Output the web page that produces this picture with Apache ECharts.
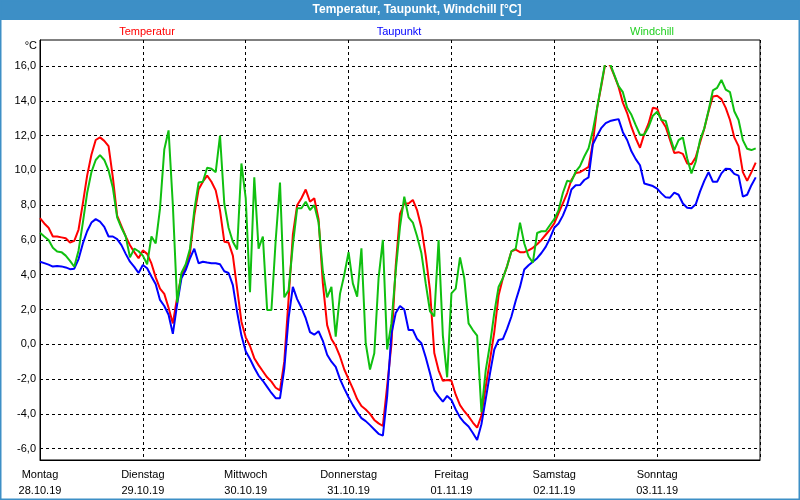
<!DOCTYPE html>
<html>
<head>
<meta charset="utf-8">
<script src="https://cdn.jsdelivr.net/npm/echarts@6/dist/echarts.min.js"></script>
<style>
  html, body { margin: 0; padding: 0; background: #ffffff; }
  #chart { width: 800px; height: 500px; }
</style>
</head>
<body>
<div id="chart"></div>
<script>
// ---- data (hourly, starting Monday 28.10.19 00:00) ----
const dayNames = ['Montag', 'Dienstag', 'Mittwoch', 'Donnerstag', 'Freitag', 'Samstag', 'Sonntag'];
const dayDates = ['28.10.19', '29.10.19', '30.10.19', '31.10.19', '01.11.19', '02.11.19', '03.11.19'];
const seriesNames = ['Temperatur', 'Taupunkt', 'Windchill'];
const chartTitle = 'Temperatur, Taupunkt, Windchill [°C]';
const unitLabel = '°C';

const temperatur = [
  7.25, 6.95, 6.7, 6.2, 6.2, 6.15, 6.1, 5.85, 5.95, 6.6, 8.1, 9.7, 10.9, 11.75, 11.9, 11.7, 11.4, 9.6, 7.4, 6.8, 6.2, 5.7, 5.3, 4.95,
  5.4, 5.2, 4.65, 3.85, 3.2, 2.9, 2.1, 1.2, 2.7, 3.95, 4.45, 5.25, 7.4, 8.9, 9.35, 9.7, 9.35, 8.85, 7.7, 5.9, 5.85, 5.1, 3.2, 1.3,
  0.4, -0.1, -0.8, -1.2, -1.55, -1.9, -2.15, -2.5, -2.65, -1.0, 2.6, 6.3, 8.0, 8.4, 8.9, 8.2, 8.4, 7.2, 3.5, 1.1, 0.3, -0.1, -0.7, -1.45,
  -2.0, -2.55, -3.15, -3.55, -3.75, -4.0, -4.35, -4.55, -4.7, -2.4, 0.0, 4.5, 7.5, 8.1, 8.1, 8.3, 7.7, 6.7, 5.1, 3.1, -0.5, -1.5, -2.1, -2.05,
  -2.1, -2.9, -3.5, -3.85, -4.15, -4.5, -4.8, -4.1, -2.45, -0.9, 0.7, 2.8, 3.8, 4.5, 5.35, 5.45, 5.3, 5.3, 5.4, 5.55, 5.75, 6.0, 6.3, 6.6,
  6.95, 7.55, 8.1, 8.7, 9.45, 9.85, 9.9, 10.05, 10.2, 11.6, 13.6, 14.9, 16.3, 16.05, 15.45, 14.8, 13.9, 13.3, 12.5, 11.85, 11.3, 12.1, 12.7, 13.6,
  13.55, 12.9, 12.5, 11.75, 11.0, 11.05, 10.95, 10.4, 10.35, 10.75, 11.6, 12.4, 13.4, 14.25, 14.3, 14.1, 13.6, 12.9, 11.9, 11.4, 9.9, 9.4, 9.9, 10.45
];

const taupunkt = [
  4.75, 4.67, 4.58, 4.47, 4.5, 4.48, 4.42, 4.32, 4.35, 4.9, 5.8, 6.5, 7.0, 7.2, 7.05, 6.75, 6.2, 6.2, 6.05, 5.7, 5.2, 4.75, 4.45, 4.1,
  4.56, 4.37, 3.9, 3.45, 2.55, 2.2, 1.7, 0.6, 2.3, 3.8, 4.27, 4.95, 5.5, 4.66, 4.75, 4.7, 4.66, 4.66, 4.6, 4.2, 4.1, 3.4, 1.85, 0.5,
  -0.4, -0.85, -1.35, -1.8, -2.1, -2.45, -2.8, -3.1, -3.1, -1.4, 1.5, 3.3, 2.6, 2.1, 1.5, 0.7, 0.55, 0.75, 0.2, -0.6, -1.0, -1.3, -2.0, -2.55,
  -3.05, -3.5, -3.9, -4.25, -4.42, -4.65, -4.9, -5.15, -5.25, -3.0, 0.6, 1.8, 2.2, 2.0, 0.82, 0.82, 0.3, 0.06, -0.75, -1.67, -2.65, -3.0, -3.3, -2.97,
  -3.2, -3.75, -4.2, -4.5, -4.73, -5.1, -5.5, -4.6, -3.15, -1.67, -0.3, 0.25, 0.3, 0.9, 1.6, 2.5, 3.3, 4.3, 4.55, 4.75, 4.95, 5.25, 5.6, 6.1,
  6.7, 6.95, 7.4, 8.0, 8.9, 9.15, 9.16, 9.45, 9.6, 11.5, 12.0, 12.45, 12.72, 12.84, 12.9, 12.95, 12.2, 11.75, 11.1, 10.65, 10.3, 9.25, 9.18, 9.1,
  8.95, 8.68, 8.45, 8.43, 8.72, 8.6, 8.1, 7.85, 7.82, 8.05, 8.78, 9.4, 9.9, 9.35, 9.35, 9.83, 10.1, 10.08, 9.8, 9.7, 8.49, 8.6, 9.15, 9.6
];

const windchill = [
  6.42, 6.2, 6.0, 5.55, 5.33, 5.3, 5.1, 4.8, 4.46, 5.4, 7.0, 8.7, 9.9, 10.6, 10.88, 10.6, 10.0, 9.0, 7.3, 6.7, 6.2, 5.0, 5.5, 5.35,
  5.1, 4.6, 6.2, 5.8, 7.8, 11.2, 12.3, 8.0, 2.4, 4.1, 4.6, 5.5, 7.7, 9.3, 9.35, 10.15, 10.1, 9.9, 12.0, 8.1, 6.7, 5.9, 5.45, 10.4,
  8.4, 3.0, 9.6, 5.5, 6.2, 1.97, 1.97, 6.0, 9.3, 2.7, 3.1, 5.7, 7.82, 7.82, 8.2, 7.72, 8.0, 7.0, 4.2, 2.7, 3.3, 0.44, 2.9, 4.0,
  5.3, 3.5, 2.74, 5.52, 0.06, -1.45, -0.52, 3.8, 6.0, -0.3, 1.2, 4.2, 6.76, 8.49, 7.3, 7.0, 6.2, 5.23, 3.5, 1.9, 1.6, 6.0, 0.5, -1.9,
  2.93, 3.2, 5.0, 3.8, 1.2, 0.82, 0.5, -3.9, -1.5, 0.0, 1.8, 3.3, 3.8, 4.5, 5.35, 5.5, 7.0, 5.8, 5.05, 4.7, 6.4, 6.5, 6.5, 6.86,
  7.2, 7.72, 8.7, 9.4, 9.35, 9.93, 10.25, 10.8, 11.27, 12.3, 13.6, 15.0, 16.35, 16.15, 15.5, 14.85, 14.5, 13.6, 13.2, 12.6, 12.05, 12.05, 12.5, 13.15,
  13.38, 12.9, 12.85, 11.94, 11.17, 11.74, 11.9, 10.7, 9.83, 10.5, 11.74, 12.42, 13.45, 14.6, 14.75, 15.2, 14.65, 14.5, 13.4, 12.9, 11.74, 11.25, 11.17, 11.27
];

// ---- chart ----
const FONT = '"Liberation Sans", Arial, sans-serif';
const BLUE_FRAME = '#3d8fc6';
const toPairs = arr => arr.map((v, i) => [i, v]);

const chart = echarts.init(document.getElementById('chart'), null, { renderer: 'canvas' });

const option = {
  animation: false,
  backgroundColor: '#ffffff',
  grid: [
    { // frame + day separators
      left: 40, top: 40, width: 720, height: 420,
      show: true, borderColor: '#000', borderWidth: 1, backgroundColor: 'transparent',
      containLabel: false, outerBoundsMode: 'none'
    },
    { // value grid
      left: 40, top: 66.1, width: 720, height: 382.5,
      containLabel: false, outerBoundsMode: 'none'
    }
  ],
  xAxis: [
    {
      gridIndex: 0, type: 'value', min: 0, max: 168, interval: 24,
      axisLine: { show: true, lineStyle: { color: '#000', width: 1 } },
      axisTick: { show: false },
      splitLine: { show: true, lineStyle: { color: '#000', type: [3, 3], width: 1 } },
      axisLabel: {
        show: true, margin: 7, color: '#000', fontFamily: FONT, fontSize: 11, lineHeight: 16,
        showMaxLabel: false,
        formatter: v => {
          const i = Math.round(v / 24);
          return i < dayNames.length ? dayNames[i] + '\n' + dayDates[i] : '';
        }
      }
    },
    {
      gridIndex: 1, type: 'value', min: 0, max: 168,
      show: false, splitLine: { show: false }
    }
  ],
  yAxis: [
    {
      gridIndex: 0, type: 'value', min: 0, max: 1,
      axisLine: { show: true, lineStyle: { color: '#000' } },
      axisTick: { show: false }, axisLabel: { show: false }, splitLine: { show: false }
    },
    {
      gridIndex: 1, type: 'value', min: -6, max: 16, interval: 2,
      axisLine: { show: false }, axisTick: { show: false },
      splitLine: { show: true, lineStyle: { color: '#000', type: [3, 3], width: 1 } },
      axisLabel: {
        margin: 4, color: '#000', fontFamily: FONT, fontSize: 11,
        formatter: v => v.toFixed(1).replace('.', ',')
      }
    }
  ],
  series: [
    {
      name: seriesNames[0], type: 'line', xAxisIndex: 1, yAxisIndex: 1,
      data: toPairs(temperatur), showSymbol: false, symbol: 'none',
      lineStyle: { color: '#ff0000', width: 2 }, itemStyle: { color: '#ff0000' }, z: 3
    },
    {
      name: seriesNames[1], type: 'line', xAxisIndex: 1, yAxisIndex: 1,
      data: toPairs(taupunkt), showSymbol: false, symbol: 'none',
      lineStyle: { color: '#0000ff', width: 2 }, itemStyle: { color: '#0000ff' }, z: 4
    },
    {
      name: seriesNames[2], type: 'line', xAxisIndex: 1, yAxisIndex: 1,
      data: toPairs(windchill), showSymbol: false, symbol: 'none',
      lineStyle: { color: '#10c010', width: 2 }, itemStyle: { color: '#10c010' }, z: 5
    }
  ],
  graphic: [
    { type: 'rect', shape: { x: 0, y: 0, width: 800, height: 20 }, style: { fill: BLUE_FRAME }, z: 10 },
    { type: 'rect', shape: { x: 0.5, y: 0.5, width: 799, height: 499 }, style: { fill: 'none', stroke: BLUE_FRAME, lineWidth: 2 }, z: 10 },
    { type: 'text', x: 417, y: 10, z: 11,
      style: { text: chartTitle, fill: '#ffffff', font: 'bold 12px ' + FONT, align: 'center', verticalAlign: 'middle' } },
    { type: 'text', x: 147, y: 32, z: 11,
      style: { text: seriesNames[0], fill: '#ff0000', font: '11px ' + FONT, align: 'center', verticalAlign: 'middle' } },
    { type: 'text', x: 399, y: 32, z: 11,
      style: { text: seriesNames[1], fill: '#0000ff', font: '11px ' + FONT, align: 'center', verticalAlign: 'middle' } },
    { type: 'text', x: 652, y: 32, z: 11,
      style: { text: seriesNames[2], fill: '#22d022', font: '11px ' + FONT, align: 'center', verticalAlign: 'middle' } },
    { type: 'text', x: 37, y: 46, z: 11,
      style: { text: unitLabel, fill: '#000', font: '11px ' + FONT, align: 'right', verticalAlign: 'middle' } }
  ]
};

chart.setOption(option);
</script>
</body>
</html>
